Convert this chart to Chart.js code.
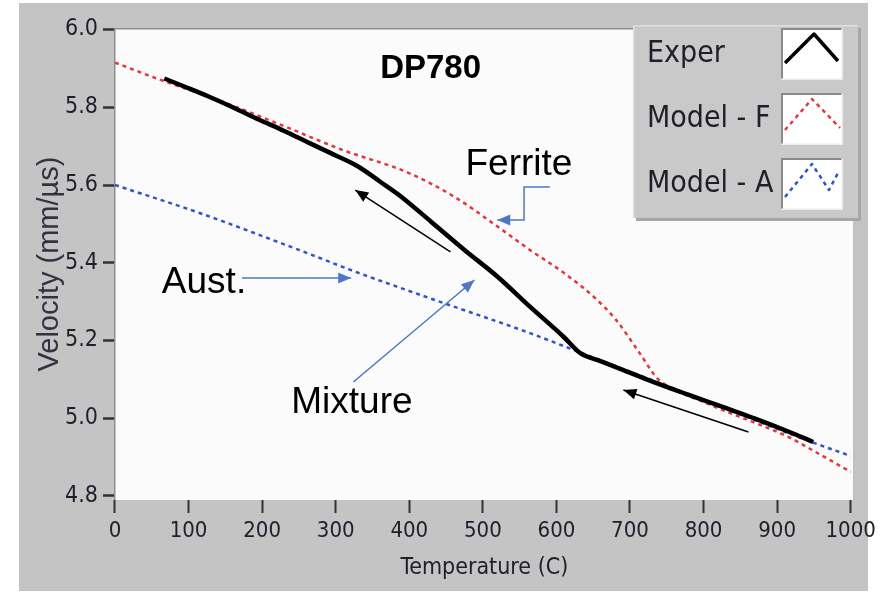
<!DOCTYPE html>
<html><head><meta charset="utf-8">
<script src="https://cdn.jsdelivr.net/npm/chart.js@4.4.1/dist/chart.umd.min.js"></script>
<style>html,body{margin:0;padding:0;background:#fff;overflow:hidden}</style>
</head><body>
<canvas id="c" width="881" height="595"></canvas>
<script>
// ---- data ----
const X_TICKS = [0, 100, 200, 300, 400, 500, 600, 700, 800, 900, 1000];
const Y_TICKS = [4.8, 5.0, 5.2, 5.4, 5.6, 5.8, 6.0];
const SERIES_LABELS = ['Exper', 'Model - F', 'Model - A'];
const CHART_TITLE = 'DP780';

const EXPER_T = [67, 100, 128, 160, 196, 230, 263, 300, 331, 360, 389, 430, 475, 520, 564, 610, 632, 660, 691, 735, 780, 826, 870, 915, 949];
const EXPER_V = [5.874, 5.849, 5.827, 5.800, 5.768, 5.739, 5.709, 5.676, 5.647, 5.609, 5.570, 5.505, 5.433, 5.364, 5.287, 5.209, 5.168, 5.147, 5.124, 5.091, 5.060, 5.029, 4.999, 4.966, 4.939];

const MODEL_F_T = [0, 61, 138, 219, 308, 398, 461, 520, 564, 610, 655, 681, 713, 736, 758, 800, 826, 870, 915, 960, 1000];
const MODEL_F_V = [5.915, 5.871, 5.820, 5.760, 5.691, 5.632, 5.570, 5.493, 5.433, 5.374, 5.305, 5.253, 5.168, 5.105, 5.075, 5.042, 5.021, 4.988, 4.952, 4.905, 4.862];

const MODEL_A_T = [0, 115, 250, 321, 435, 564, 623, 800, 951, 1000];
const MODEL_A_V = [5.600, 5.528, 5.433, 5.381, 5.304, 5.219, 5.176, 5.047, 4.936, 4.903];

// annotation texts and arrows (data coordinates: temperature, velocity)
const NOTE_TEXTS = [
  {text: 'Ferrite', t: 549, v: 5.626},
  {text: 'Aust.', t: 121, v: 5.322},
  {text: 'Mixture', t: 322, v: 5.0135}
];
const BLUE_ARROWS = [
  [[591, 5.595], [556, 5.595], [556, 5.510], [519.6, 5.510]],
  [[172.7, 5.361], [321, 5.361]],
  [[324, 5.0933], [488.5, 5.3556]]
];
const BLACK_ARROWS = [
  [[456, 5.4277], [326.6, 5.5871]],
  [[861, 4.9646], [691, 5.0727]]
];

const NARROW = '"Liberation Sans Narrow", "Arial Narrow", "DejaVu Sans Condensed", sans-serif';
const SANS = '"Liberation Sans", Arial, sans-serif';
const TEXT_COL = '#1f1e2a';

function pts(T, V) { return T.map((t, i) => ({x: t, y: V[i]})); }

const panelPlugin = {
  id: 'panel',
  beforeDraw(chart) {
    const ctx = chart.ctx, a = chart.chartArea;
    ctx.save();
    ctx.fillStyle = '#ffffff';
    ctx.fillRect(0, 0, chart.width, chart.height);
    ctx.fillStyle = '#c4c4c4';
    ctx.fillRect(19, 3, 849, 588);
    ctx.fillStyle = '#fbfbfb';
    ctx.fillRect(a.left, a.top, a.right - a.left, a.bottom - a.top);
    ctx.lineWidth = 1.5;
    ctx.strokeStyle = '#8e8e8e';
    ctx.beginPath();
    ctx.moveTo(a.left + 0.75, a.bottom);
    ctx.lineTo(a.left + 0.75, a.top + 0.75);
    ctx.lineTo(a.right, a.top + 0.75);
    ctx.stroke();
    ctx.strokeStyle = '#b2b2b2';
    ctx.beginPath();
    ctx.moveTo(a.right - 0.75, a.top);
    ctx.lineTo(a.right - 0.75, a.bottom);
    ctx.stroke();
    ctx.restore();
  }
};

function arrow(ctx, path, color, width, head) {
  ctx.save();
  ctx.strokeStyle = color; ctx.fillStyle = color; ctx.lineWidth = width;
  ctx.beginPath();
  ctx.moveTo(path[0][0], path[0][1]);
  for (let i = 1; i < path.length; i++) ctx.lineTo(path[i][0], path[i][1]);
  ctx.stroke();
  const p1 = path[path.length - 2], p2 = path[path.length - 1];
  const ang = Math.atan2(p2[1] - p1[1], p2[0] - p1[0]);
  ctx.beginPath();
  ctx.moveTo(p2[0], p2[1]);
  ctx.lineTo(p2[0] - head * Math.cos(ang) + head * 0.42 * Math.sin(ang), p2[1] - head * Math.sin(ang) - head * 0.42 * Math.cos(ang));
  ctx.lineTo(p2[0] - head * Math.cos(ang) - head * 0.42 * Math.sin(ang), p2[1] - head * Math.sin(ang) + head * 0.42 * Math.cos(ang));
  ctx.closePath();
  ctx.fill();
  ctx.restore();
}

const notesPlugin = {
  id: 'notes',
  afterDatasetsDraw(chart) {
    const ctx = chart.ctx, xs = chart.scales.x, ys = chart.scales.y;
    const P = (p) => [xs.getPixelForValue(p[0]), ys.getPixelForValue(p[1])];
    ctx.save();
    ctx.fillStyle = '#000';
    ctx.textAlign = 'center';
    ctx.textBaseline = 'middle';
    ctx.font = 'bold 33px ' + SANS;
    ctx.fillText(CHART_TITLE, xs.getPixelForValue(429), ys.getPixelForValue(5.898));
    ctx.font = '37px ' + SANS;
    ctx.textBaseline = 'alphabetic';
    NOTE_TEXTS.forEach(n => ctx.fillText(n.text, xs.getPixelForValue(n.t), ys.getPixelForValue(n.v)));
    ctx.restore();
    BLUE_ARROWS.forEach(a => arrow(ctx, a.map(P), '#4d78c2', 1.5, 13));
    BLACK_ARROWS.forEach(a => arrow(ctx, a.map(P), '#000000', 1.5, 13));
  },
  afterDraw(chart) {
    // LabVIEW-style plot legend
    const ctx = chart.ctx;
    const L = 633, T = 25, W = 225, H = 193;
    ctx.save();
    ctx.fillStyle = '#a6a6a6';
    ctx.fillRect(L + 3, T + 3, W, H);
    ctx.fillStyle = '#c9c9c9';
    ctx.fillRect(L, T, W, H);
    ctx.fillStyle = '#dedede';
    ctx.fillRect(L, T, W, 1.5);
    ctx.fillRect(L, T, 1.5, H);
    const rows = [28, 93, 158];
    const shapes = [
      [[4, 35], [33, 6], [57, 33]],
      [[4, 37], [31, 6], [59, 35]],
      [[4, 39], [31, 6], [48, 32], [58, 13]]
    ];
    chart.data.datasets.forEach((ds, i) => {
      const top = rows[i], sx = 781, sw = 62, sh = 52;
      ctx.fillStyle = '#ffffff';
      ctx.fillRect(sx, top, sw, sh);
      ctx.fillStyle = '#8a8a8a';
      ctx.fillRect(sx, top, sw, 2);
      ctx.fillRect(sx, top, 2, sh);
      ctx.fillStyle = '#ececec';
      ctx.fillRect(sx, top + sh - 1.5, sw, 1.5);
      ctx.fillRect(sx + sw - 1.5, top, 1.5, sh);
      ctx.save();
      ctx.beginPath(); ctx.rect(sx + 2, top + 2, sw - 3.5, sh - 3.5); ctx.clip();
      ctx.strokeStyle = ds.borderColor;
      ctx.lineWidth = i === 0 ? 3.5 : 2.5;
      ctx.setLineDash(ds.borderDash || []);
      ctx.lineJoin = 'round';
      ctx.beginPath();
      shapes[i].forEach((p, k) => { const px = sx + p[0], py = top + p[1]; if (k) ctx.lineTo(px, py); else ctx.moveTo(px, py); });
      ctx.stroke();
      ctx.restore();
      ctx.fillStyle = TEXT_COL;
      ctx.font = '30px ' + NARROW;
      ctx.textAlign = 'left';
      ctx.textBaseline = 'middle';
      ctx.fillText(ds.label, 647, top + 26);
    });
    ctx.restore();
  }
};

new Chart(document.getElementById('c'), {
  type: 'line',
  data: {
    datasets: [
      {label: SERIES_LABELS[0], data: pts(EXPER_T, EXPER_V), borderColor: '#000000', borderWidth: 4.5, pointRadius: 0, cubicInterpolationMode: 'monotone', order: 0},
      {label: SERIES_LABELS[1], data: pts(MODEL_F_T, MODEL_F_V), borderColor: '#e0393f', borderWidth: 2.5, borderDash: [4, 4], pointRadius: 0, cubicInterpolationMode: 'monotone', order: 1},
      {label: SERIES_LABELS[2], data: pts(MODEL_A_T, MODEL_A_V), borderColor: '#2f56c6', borderWidth: 2.5, borderDash: [4, 4], pointRadius: 0, cubicInterpolationMode: 'monotone', order: 2}
    ]
  },
  options: {
    responsive: false,
    animation: false,
    devicePixelRatio: 1,
    layout: {padding: {left: 0, top: 28, right: 21, bottom: 0}},
    plugins: {legend: {display: false}, tooltip: {enabled: false}, title: {display: false}},
    scales: {
      x: {
        type: 'linear', min: -1.35, max: 1005.4,
        afterBuildTicks: s => { s.ticks = X_TICKS.map(v => ({value: v})); },
        afterFit: s => { s.height = 95; },
        ticks: {font: {family: NARROW, size: 22}, color: TEXT_COL, padding: 5, maxRotation: 0, autoSkip: false, callback: v => String(v)},
        grid: {drawOnChartArea: false, drawTicks: true, tickLength: 13, tickColor: '#333', tickWidth: 2},
        border: {display: false},
        title: {display: true, text: 'Temperature (C)', font: {family: NARROW, size: 23}, color: TEXT_COL, padding: {top: 0, bottom: 13}}
      },
      y: {
        type: 'linear', min: 4.7897, max: 6.0039,
        afterBuildTicks: s => { s.ticks = Y_TICKS.map(v => ({value: v})); },
        afterFit: s => { s.width = 114; },
        ticks: {font: {family: NARROW, size: 23}, color: TEXT_COL, padding: 5, autoSkip: false, callback: v => v.toFixed(1)},
        grid: {drawOnChartArea: false, drawTicks: true, tickLength: 11, tickColor: '#333', tickWidth: 2.5},
        border: {display: false},
        title: {display: true, text: 'Velocity (mm/µs)', font: {family: SANS, size: 29}, color: '#33323f', padding: {top: 33, bottom: 0}}
      }
    }
  },
  plugins: [panelPlugin, notesPlugin]
});
</script>
</body></html>
